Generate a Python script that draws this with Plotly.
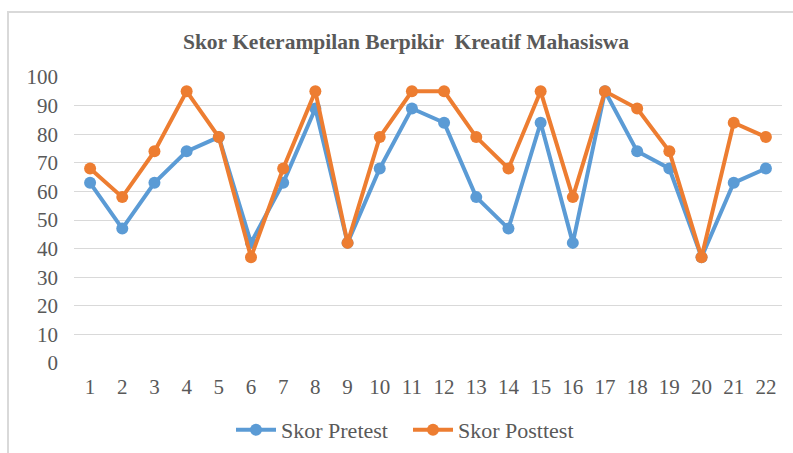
import plotly.graph_objects as go

categories = [str(i) for i in range(1, 23)]
pretest = [63, 47, 63, 74, 79, 42, 63, 89, 42, 68, 89, 84, 58, 47, 84, 42, 95, 74, 68, 37, 63, 68]
posttest = [68, 58, 74, 95, 79, 37, 68, 95, 42, 79, 95, 95, 79, 68, 95, 58, 95, 89, 74, 37, 84, 79]
y_ticks = list(range(0, 101, 10))

W, H = 793, 453
L, R, T, B = 74, 11, 77, 90
pw, ph = W - L - R, H - T - B

font_family = "Liberation Serif"
txt = "#595959"

fig = go.Figure()
fig.add_trace(go.Scatter(x=categories, y=pretest, name="Skor Pretest", mode="lines+markers",
                         line=dict(color="#5B9BD5", width=4), marker=dict(size=12, color="#5B9BD5")))
fig.add_trace(go.Scatter(x=categories, y=posttest, name="Skor Posttest", mode="lines+markers",
                         line=dict(color="#ED7D31", width=4), marker=dict(size=12, color="#ED7D31")))

def px_x(x):
    return (x - L) / pw

def px_y(y):
    return (H - B - y) / ph

fig.add_shape(type="rect", xref="paper", yref="paper",
              x0=px_x(8), x1=px_x(805), y0=px_y(475), y1=px_y(12),
              line=dict(color="#d9d9d9", width=2), fillcolor="rgba(0,0,0,0)", layer="below")

fig.update_layout(
    width=W, height=H,
    margin=dict(l=L, r=R, t=T, b=B, autoexpand=False),
    paper_bgcolor="white", plot_bgcolor="white",
    font=dict(family=font_family, color=txt, size=21),
    title=dict(text="<b>Skor Keterampilan Berpikir  Kreatif Mahasiswa</b>",
               x=406 / W, xanchor="center",
               y=1 - 41 / H, yanchor="middle", yref="container",
               font=dict(family=font_family, size=21.5, color=txt)),
    xaxis=dict(type="category", range=[-0.5, 21.5], showgrid=False, showline=False, automargin=False,
               zeroline=False, ticks="", tickfont=dict(family=font_family, size=21, color=txt),
               ticklabelstandoff=9),
    yaxis=dict(range=[0, 100], tickvals=y_ticks, showgrid=True, gridcolor="#d9d9d9", gridwidth=1.2,
               automargin=False, zeroline=False, showline=False, ticks="",
               tickfont=dict(family=font_family, size=21, color=txt), ticklabelstandoff=15),
    legend=dict(orientation="h", x=408 / W, xref="container", xanchor="center",
                y=1 - 430 / H, yref="container", yanchor="middle",
                font=dict(family=font_family, size=22, color=txt), itemwidth=40,
                entrywidth=122, entrywidthmode="pixels",
                bgcolor="rgba(0,0,0,0)"),
    showlegend=True,
)

fig.write_html("out.html", config={"displayModeBar": False},
               post_script="document.body.style.margin='0px';document.body.style.overflow='hidden';")
